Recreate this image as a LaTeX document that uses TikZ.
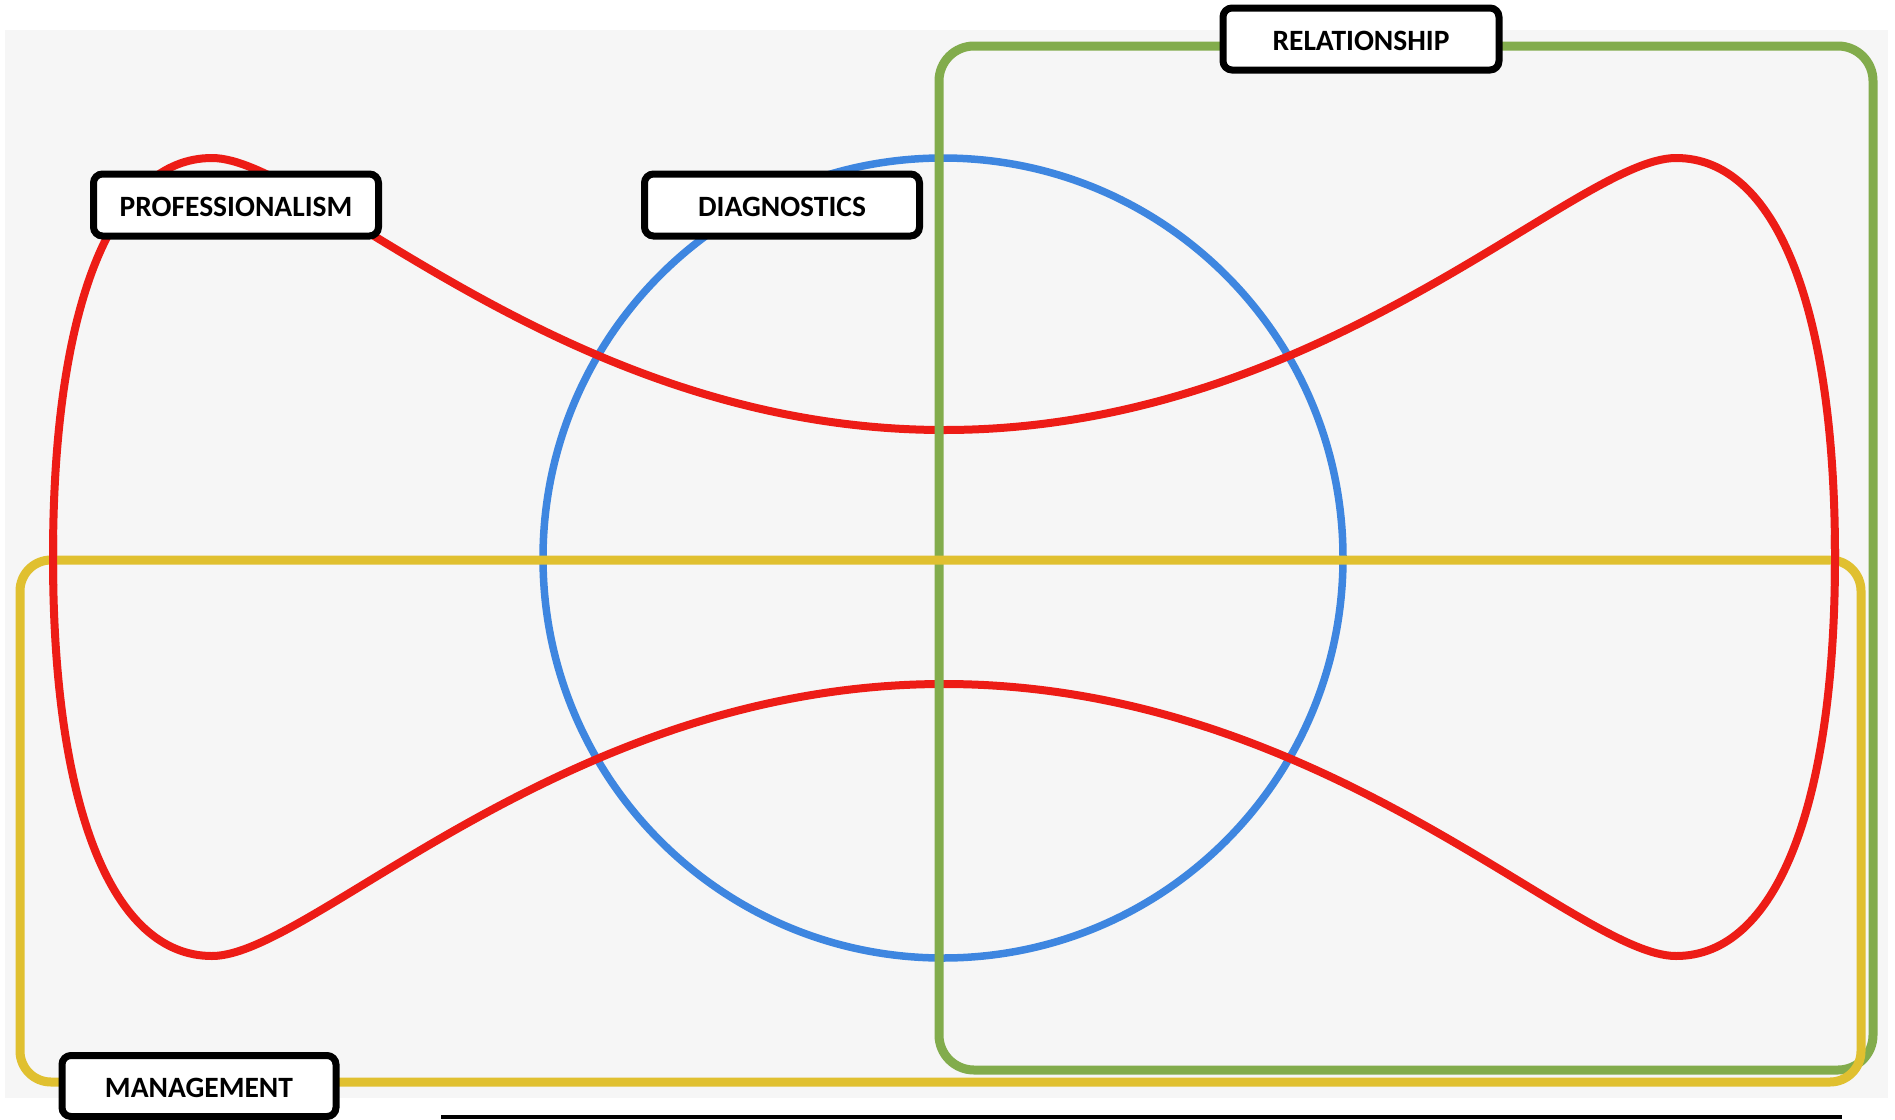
\documentclass[tikz,border=0pt]{standalone}
\usepackage{fontspec}
\setmainfont{Carlito}
\begin{document}
\begin{tikzpicture}[x=1pt,y=-1pt,
  redline/.style={draw=redc,line width=8pt},
  label/.style={draw=black,fill=white,line width=7pt,rounded corners=9pt,
    inner sep=0pt,minimum height=62pt,text height=22.6pt,text depth=0pt,
    font=\fontsize{29.5}{34}\selectfont\bfseries}]
\definecolor{bgc}{RGB}{246,246,246}
\definecolor{redc}{RGB}{237,28,22}
\definecolor{bluec}{RGB}{62,134,224}
\definecolor{greenc}{RGB}{130,172,76}
\definecolor{yellowc}{RGB}{224,192,48}
\useasboundingbox (0,0) rectangle (1895,1119);
\fill[bgc] (5,30) rectangle (1888,1098);
% diagnostics circle
\draw[bluec,line width=7.5pt] (943,558) circle[radius=400pt];
% professionalism curve
\def\redpath{(53,557) .. controls (53,307) and (112,158) .. (212,158)
  .. controls (312,158) and (564,430) .. (944,430)
  .. controls (1324,430) and (1576,158) .. (1676,158)
  .. controls (1776,158) and (1835,307) .. (1835,557)
  .. controls (1835,807) and (1776,956) .. (1676,956)
  .. controls (1576,956) and (1324,684) .. (944,684)
  .. controls (564,684) and (312,956) .. (212,956)
  .. controls (112,956) and (53,807) .. (53,557) -- cycle}
\draw[redline] \redpath;
% relationship box
\draw[greenc,line width=9pt,rounded corners=35pt] (939,46) rectangle (1873,1070);
% management box
\draw[yellowc,line width=9pt,rounded corners=31pt] (20,560) rectangle (1861,1082);
% red over yellow at the crossings
\begin{scope}
\clip (30,535) rectangle (76,585) (1812,535) rectangle (1858,585);
\draw[redline] \redpath;
\end{scope}
% bottom rule
\coordinate (ruleA) at (441,1117);
\coordinate (ruleB) at (1842,1117);
\draw[black,line width=4pt] (ruleA) -- (ruleB);
% labels
\node[label,minimum width=285pt] (prof) at (236,205) {PROFESSIONALISM};
\node[label,minimum width=275pt] (diag) at (782,205) {DIAGNOSTICS};
\node[label,minimum width=276pt] (rel) at (1361,39) {RELATIONSHIP};
\node[label,minimum width=274pt,minimum height=61pt] (man) at (199,1086) {MANAGEMENT};
\end{tikzpicture}
\end{document}
